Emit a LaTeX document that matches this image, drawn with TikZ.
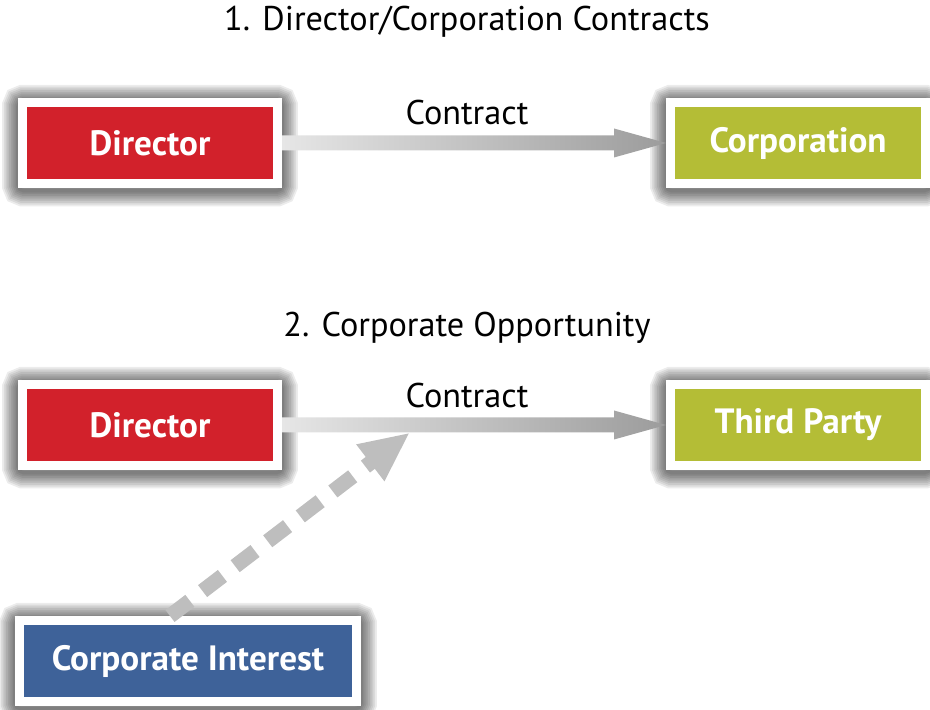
\documentclass[tikz,border=0pt]{standalone}
\usepackage{fontspec}
\setmainfont{PT Sans}
\usetikzlibrary{calc,arrows.meta,backgrounds}

\definecolor{dirred}{HTML}{D2212B}
\definecolor{corpgreen}{HTML}{B4BD36}
\definecolor{intblue}{HTML}{3E6299}
\definecolor{arrowgray}{HTML}{BEBEBE}
\definecolor{shaftlight}{HTML}{E6E6E6}
\definecolor{shaftdark}{HTML}{9C9C9C}

\tikzset{
  party/.style={draw=white, line width=0.18cm, minimum width=5.1cm, minimum height=1.62cm,
    text=white, font=\fontsize{20}{24}\selectfont\bfseries},
  heading/.style={font=\fontsize{19.5}{23}\selectfont},
  glow/.style={black, opacity=0.075, rounded corners=3pt},
}

\begin{document}
\begin{tikzpicture}
\useasboundingbox (0,0) rectangle (18.6,14.18);

% 1. director/corporation
\node[heading] (title1) at (9.34,13.74) {1. Director/Corporation Contracts};
\node[party, fill=dirred] (dir1) at (3.0,11.32) {Director};
\node[party, fill=corpgreen] (corp1) at (15.96,11.32) {Corporation};
\node[heading] (contract1) at (9.34,11.92) {Contract};

\shade[left color=shaftlight, right color=shaftdark]
  ($(dir1.east)+(0,0.15)$) -- ($(corp1.west)+(-1.04,0.15)$) -- ($(corp1.west)+(-1.04,0.29)$)
  -- (corp1.west) -- ($(corp1.west)+(-1.04,-0.29)$) -- ($(corp1.west)+(-1.04,-0.15)$)
  -- ($(dir1.east)+(0,-0.15)$) -- cycle;

% 2. corporate opportunity
\node[heading] (title2) at (9.34,7.62) {2. Corporate Opportunity};
\node[party, fill=dirred] (dir2) at (3.0,5.68) {Director};
\node[party, fill=corpgreen] (third) at (15.96,5.68) {Third Party};
\node[heading] (contract2) at (9.34,6.26) {Contract};
\node[party, fill=intblue, minimum width=6.74cm] (interest) at (3.76,0.96) {Corporate Interest};

\shade[left color=shaftlight, right color=shaftdark]
  ($(dir2.east)+(0,0.15)$) -- ($(third.west)+(-1.04,0.15)$) -- ($(third.west)+(-1.04,0.29)$)
  -- (third.west) -- ($(third.west)+(-1.04,-0.29)$) -- ($(third.west)+(-1.04,-0.15)$)
  -- ($(dir2.east)+(0,-0.15)$) -- cycle;

\coordinate (tip) at (8.2,5.53);
\draw[arrowgray, line width=0.3cm, dash pattern=on 0.5cm off 0.32cm,
  -{Triangle[length=1.0cm,width=0.85cm]}] ($(interest.north)+(-0.36,0)$) -- (tip);

% soft shadows round the boxes
\begin{scope}[on background layer]
  \foreach \n in {dir1,corp1,dir2,third,interest}
    \foreach \w in {2,4,...,18}
      \draw[glow, line width=\w pt] ([yshift=-1.5pt]\n.south west) rectangle ([yshift=-1.5pt]\n.north east);
\end{scope}

\end{tikzpicture}
\end{document}
